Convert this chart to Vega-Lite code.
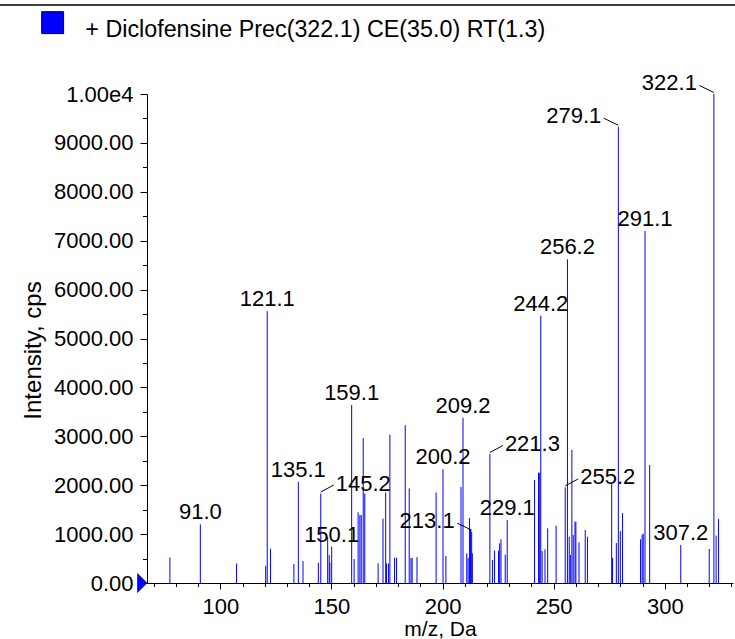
{
  "$schema": "https://vega.github.io/schema/vega-lite/v6.json",
  "width": 586,
  "height": 489,
  "autosize": {"type": "none"},
  "padding": {"left": 147, "top": 94, "right": 2, "bottom": 56},
  "background": "white",
  "config": {"view": {"stroke": null}, "font": "Liberation Sans"},
  "resolve": {"axis": {"x": "independent", "y": "independent"}},
  "datasets": {
    "peaks": [
      {"mz": 77.3, "intensity": 520},
      {"mz": 91.0, "intensity": 1200, "label": "91.0"},
      {"mz": 107.3, "intensity": 400},
      {"mz": 120.4, "intensity": 350},
      {"mz": 121.1, "intensity": 5560, "label": "121.1"},
      {"mz": 122.6, "intensity": 700},
      {"mz": 133.1, "intensity": 390},
      {"mz": 135.1, "intensity": 2070, "label": "135.1"},
      {"mz": 137.2, "intensity": 450},
      {"mz": 144.1, "intensity": 416},
      {"mz": 145.2, "intensity": 1830, "label": "145.2"},
      {"mz": 148.3, "intensity": 940},
      {"mz": 149.0, "intensity": 572},
      {"mz": 149.3, "intensity": 415},
      {"mz": 150.1, "intensity": 745, "label": "150.1"},
      {"mz": 159.1, "intensity": 3640, "label": "159.1"},
      {"mz": 160.2, "intensity": 490},
      {"mz": 162.0, "intensity": 1445},
      {"mz": 162.8, "intensity": 1390},
      {"mz": 163.4, "intensity": 1390},
      {"mz": 164.3, "intensity": 2965},
      {"mz": 165.0, "intensity": 1830},
      {"mz": 171.0, "intensity": 402},
      {"mz": 173.2, "intensity": 1316},
      {"mz": 174.4, "intensity": 1850},
      {"mz": 174.8, "intensity": 400},
      {"mz": 175.7, "intensity": 400},
      {"mz": 176.3, "intensity": 3030},
      {"mz": 178.4, "intensity": 518},
      {"mz": 179.3, "intensity": 518},
      {"mz": 183.2, "intensity": 3228},
      {"mz": 185.0, "intensity": 1936},
      {"mz": 185.8, "intensity": 510},
      {"mz": 186.3, "intensity": 510},
      {"mz": 188.5, "intensity": 530},
      {"mz": 197.1, "intensity": 1850},
      {"mz": 200.2, "intensity": 2328, "label": "200.2"},
      {"mz": 201.5, "intensity": 552},
      {"mz": 208.3, "intensity": 1966},
      {"mz": 209.2, "intensity": 3378, "label": "209.2"},
      {"mz": 210.9, "intensity": 607},
      {"mz": 211.5, "intensity": 510},
      {"mz": 212.1, "intensity": 1330},
      {"mz": 212.6, "intensity": 1100},
      {"mz": 213.1, "intensity": 1050, "label": "213.1"},
      {"mz": 213.4, "intensity": 607},
      {"mz": 221.3, "intensity": 2638, "label": "221.3"},
      {"mz": 222.5, "intensity": 472},
      {"mz": 223.4, "intensity": 665},
      {"mz": 225.2, "intensity": 660},
      {"mz": 225.7, "intensity": 811},
      {"mz": 226.3, "intensity": 893},
      {"mz": 228.2, "intensity": 580},
      {"mz": 229.1, "intensity": 1285, "label": "229.1"},
      {"mz": 241.4, "intensity": 2106},
      {"mz": 243.2, "intensity": 2256},
      {"mz": 243.7, "intensity": 2256},
      {"mz": 244.2, "intensity": 5467, "label": "244.2"},
      {"mz": 244.8, "intensity": 654},
      {"mz": 246.1, "intensity": 689},
      {"mz": 247.3, "intensity": 1118},
      {"mz": 251.1, "intensity": 1172},
      {"mz": 255.2, "intensity": 1955, "label": "255.2"},
      {"mz": 256.2, "intensity": 6620, "label": "256.2"},
      {"mz": 257.0, "intensity": 947},
      {"mz": 257.5, "intensity": 573},
      {"mz": 258.2, "intensity": 2720},
      {"mz": 258.8, "intensity": 982},
      {"mz": 259.6, "intensity": 1254},
      {"mz": 260.0, "intensity": 1254},
      {"mz": 261.4, "intensity": 832},
      {"mz": 264.2, "intensity": 1084},
      {"mz": 265.2, "intensity": 947},
      {"mz": 276.1, "intensity": 2030},
      {"mz": 276.5, "intensity": 510},
      {"mz": 278.2, "intensity": 818},
      {"mz": 279.1, "intensity": 9330, "label": "279.1"},
      {"mz": 280.0, "intensity": 1063},
      {"mz": 281.0, "intensity": 1428},
      {"mz": 289.1, "intensity": 893},
      {"mz": 289.8, "intensity": 990},
      {"mz": 290.3, "intensity": 1010},
      {"mz": 291.1, "intensity": 7200, "label": "291.1"},
      {"mz": 293.2, "intensity": 2413},
      {"mz": 307.2, "intensity": 777, "label": "307.2"},
      {"mz": 320.0, "intensity": 695},
      {"mz": 322.1, "intensity": 10000, "label": "322.1"},
      {"mz": 323.1, "intensity": 972},
      {"mz": 324.2, "intensity": 1309}
    ]
  },
  "layer": [
    {
      "data": {"name": "peaks"},
      "mark": {"type": "rule", "color": "#0000ff", "strokeWidth": 1},
      "encoding": {
        "x": {
          "field": "mz", "type": "quantitative",
          "scale": {"domain": [67, 330.7], "nice": false, "zero": false},
          "axis": {
            "orient": "bottom",
            "title": "m/z, Da",
            "values": [100, 150, 200, 250, 300],
            "format": "d",
            "tickSize": 6,
            "tickColor": "black", "domainColor": "black", "grid": false,
            "labelFontSize": 22, "labelColor": "black", "labelPadding": 7,
            "labelFlush": false, "labelOverlap": false, "labelBound": false,
            "titleFontSize": 21, "titleFontWeight": "normal", "titleColor": "black", "titlePadding": 1
          }
        },
        "y": {
          "field": "intensity", "type": "quantitative",
          "scale": {"domain": [0, 10000], "nice": false},
          "axis": {
            "orient": "left",
            "title": "Intensity, cps",
            "values": [0, 1000, 2000, 3000, 4000, 5000, 6000, 7000, 8000, 9000, 10000],
            "labelExpr": "datum.value === 10000 ? '1.00e4' : format(datum.value, '.2f')",
            "tickSize": 7,
            "tickColor": "black", "domainColor": "black", "grid": false,
            "labelFontSize": 22, "labelColor": "black", "labelPadding": 7,
            "labelFlush": false, "labelOverlap": false, "labelBound": false,
            "titleFontSize": 24, "titleFontWeight": "normal", "titleColor": "black", "titlePadding": 8,
            "titleY": 256
          }
        },
        "y2": {"datum": 0}
      }
    },
    {
      "data": {"values": [{}]},
      "mark": {"type": "rule", "color": "black", "strokeWidth": 1.5, "clip": false},
      "encoding": {
        "x": {
          "datum": 0,
          "axis": {
            "orient": "bottom", "title": null, "labels": false, "domain": false, "grid": false,
            "values": [70, 80, 90, 110, 120, 130, 140, 160, 170, 180, 190, 210, 220, 230, 240, 260, 270, 280, 290, 310, 320, 330],
            "tickSize": 3.5, "tickColor": "black"
          }
        },
        "x2": {"datum": 340},
        "y": {
          "datum": 11820,
          "axis": {
            "orient": "left", "title": null, "labels": false, "domain": false, "grid": false,
            "values": [500, 1500, 2500, 3500, 4500, 5500, 6500, 7500, 8500, 9500],
            "tickSize": 4.5, "tickColor": "black"
          }
        }
      }
    },
    {
      "data": {"name": "peaks"},
      "transform": [{"filter": {"field": "label", "oneOf": ["91.0", "121.1", "135.1", "150.1", "159.1", "200.2", "209.2", "229.1", "244.2", "256.2", "291.1", "307.2"]}}],
      "mark": {"type": "text", "fontSize": 22, "color": "black", "align": "center", "baseline": "alphabetic", "dy": -5},
      "encoding": {
        "x": {"field": "mz", "type": "quantitative", "axis": null},
        "y": {"field": "intensity", "type": "quantitative", "axis": null},
        "text": {"field": "label"}
      }
    },
    {
      "data": {"name": "peaks"},
      "transform": [{"filter": {"field": "label", "oneOf": ["279.1", "322.1", "213.1"]}}],
      "mark": {"type": "text", "fontSize": 22, "color": "black", "align": "right", "baseline": "alphabetic", "dx": -17, "dy": -4},
      "encoding": {
        "x": {"field": "mz", "type": "quantitative", "axis": null},
        "y": {"field": "intensity", "type": "quantitative", "axis": null},
        "text": {"field": "label"}
      }
    },
    {
      "data": {"name": "peaks"},
      "transform": [{"filter": {"field": "label", "oneOf": ["221.3", "145.2", "255.2"]}}],
      "mark": {"type": "text", "fontSize": 22, "color": "black", "align": "left", "baseline": "alphabetic", "dx": 15, "dy": -3},
      "encoding": {
        "x": {"field": "mz", "type": "quantitative", "axis": null},
        "y": {"field": "intensity", "type": "quantitative", "axis": null},
        "text": {"field": "label"}
      }
    },
    {
      "data": {"name": "peaks"},
      "transform": [{"filter": {"field": "label", "oneOf": ["279.1", "322.1", "213.1"]}}],
      "mark": {"type": "rule", "color": "black", "strokeWidth": 1, "yOffset": -1.5, "x2Offset": -14.5, "y2Offset": -8.5},
      "encoding": {
        "x": {"field": "mz", "type": "quantitative", "axis": null},
        "y": {"field": "intensity", "type": "quantitative", "axis": null},
        "x2": {"field": "mz"},
        "y2": {"field": "intensity"}
      }
    },
    {
      "data": {"name": "peaks"},
      "transform": [{"filter": {"field": "label", "oneOf": ["221.3", "145.2", "255.2"]}}],
      "mark": {"type": "rule", "color": "black", "strokeWidth": 1, "yOffset": -1.5, "x2Offset": 13, "y2Offset": -8.5},
      "encoding": {
        "x": {"field": "mz", "type": "quantitative", "axis": null},
        "y": {"field": "intensity", "type": "quantitative", "axis": null},
        "x2": {"field": "mz"},
        "y2": {"field": "intensity"}
      }
    },
    {
      "data": {"values": [{}]},
      "mark": {"type": "point", "filled": true, "clip": false, "shape": "M-1,-1L0,0L-1,1Z", "size": 361, "opacity": 1, "stroke": "#000066", "strokeWidth": 0.6},
      "encoding": {
        "x": {"datum": 67, "axis": null},
        "y": {"datum": 0, "axis": null},
        "color": {
          "datum": "+ Diclofensine Prec(322.1) CE(35.0) RT(1.3)",
          "type": "nominal",
          "scale": {"range": ["#0000ff"]},
          "legend": {
            "title": null, "orient": "none", "legendX": -106, "legendY": -83,
            "symbolType": "square", "symbolSize": 480, "symbolStrokeColor": "black", "symbolStrokeWidth": 1,
            "labelFont": "Liberation Sans", "labelFontSize": 23.3, "labelColor": "black", "labelOffset": 21, "padding": 0, "labelLimit": 700,
            "symbolOpacity": 1,
            "encode": {"labels": {"update": {"dy": {"value": 7}}}}
          }
        }
      }
    }
  ]
}
